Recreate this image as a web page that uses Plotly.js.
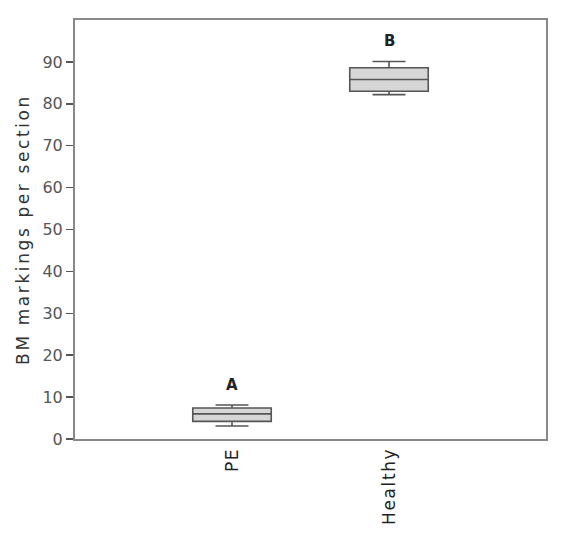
<!DOCTYPE html>
<html>
<head>
<meta charset="utf-8">
<script src="https://cdn.plot.ly/plotly-3.0.1.min.js"></script>
<style>
html,body{margin:0;padding:0;background:#fff;}
#chart .ytitle{letter-spacing:2.6px;}
#chart .xtick text{letter-spacing:1.6px;}
</style>
</head>
<body>
<div id="chart" style="width:563px;height:536px;"></div>
<script>
// Data
var groups = ["PE", "Healthy"];
var lowerWhisker = [3.1, 82.2];
var q1Values = [4.2, 83.0];
var medianValues = [6.0, 85.8];
var q3Values = [7.4, 88.6];
var upperWhisker = [8.1, 90.1];
var groupLetters = ["A", "B"];
var yTickValues = [0, 10, 20, 30, 40, 50, 60, 70, 80, 90];

var trace = {
  type: "box",
  x: groups,
  q1: q1Values,
  median: medianValues,
  q3: q3Values,
  lowerfence: lowerWhisker,
  upperfence: upperWhisker,
  boxpoints: false,
  width: 0.5,
  whiskerwidth: 0.42,
  fillcolor: "#d6d6d6",
  line: {color: "#555555", width: 1.6},
  hoverinfo: "skip",
  showlegend: false
};

var annotations = groups.map(function (g, i) {
  return {
    x: g, y: upperWhisker[i], xref: "x", yref: "y",
    text: "<b>" + groupLetters[i] + "</b>",
    showarrow: false, yanchor: "bottom", yshift: 9,
    font: {family: "DejaVu Sans", size: 15, color: "#222"}
  };
});

var layout = {
  width: 563, height: 536,
  margin: {l: 75, r: 17, t: 20, b: 97},
  paper_bgcolor: "#ffffff",
  plot_bgcolor: "#ffffff",
  font: {family: "DejaVu Sans", color: "#555"},
  xaxis: {
    type: "category",
    range: [-1, 2],
    showline: true, mirror: true, linecolor: "#888888", linewidth: 2,
    showgrid: false, zeroline: false, ticks: "",
    tickangle: -90,
    tickfont: {family: "DejaVu Sans", size: 17, color: "#222"}
  },
  yaxis: {
    range: [0, 100],
    tickvals: yTickValues,
    showline: true, mirror: true, linecolor: "#888888", linewidth: 2,
    showgrid: false, zeroline: false,
    ticks: "outside", ticklen: 7, tickwidth: 1.5, tickcolor: "#555",
    tickfont: {family: "DejaVu Sans", size: 16, color: "#555"},
    title: {text: "BM markings per section", font: {family: "DejaVu Sans", size: 17, color: "#333"}, standoff: 8}
  },
  annotations: annotations
};

Plotly.newPlot("chart", [trace], layout, {displayModeBar: false, staticPlot: true});
</script>
</body>
</html>
